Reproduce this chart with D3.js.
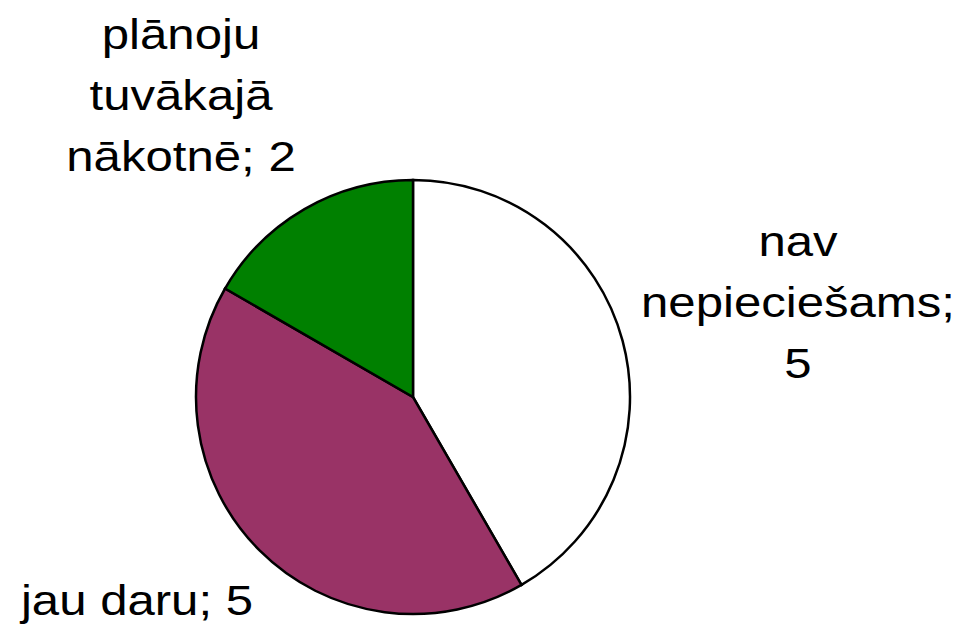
<!DOCTYPE html>
<html>
<head>
<meta charset="utf-8">
<script src="https://cdn.jsdelivr.net/npm/d3@7"></script>
<style>
  body { margin: 0; background: #fff; }
  text { font-family: "Liberation Sans", Arial, sans-serif; fill: #000; }
</style>
</head>
<body>
<svg id="chart"></svg>
<script>
// data
var categories = ["nav nepieciešams", "jau daru", "plānoju tuvākajā nākotnē"]
var values = [5, 5, 2]
var colors = ["#ffffff", "#993366", "#008000"]
var labelLines = [["nav", "nepieciešams;", "5"], ["jau daru; 5"], ["plānoju", "tuvākajā", "nākotnē; 2"]]

var width = 967,
    height = 626,
    radius = 217

var svg = d3.select("#chart")
    .attr("width", width)
    .attr("height", height)

var g = svg.append("g")
    .attr("transform", "translate(413,397)")

var pie = d3.pie()
    .value(function(d) { return d })
    .sort(null)

var arc = d3.arc()
    .innerRadius(0)
    .outerRadius(radius)

var data_ready = pie(values)

g.selectAll("path")
    .data(data_ready)
  .enter()
  .append("path")
    .attr("d", arc)
    .attr("fill", function(d, i) { return colors[i] })
    .attr("stroke", "#000")
    .style("stroke-width", "2.5px")

// label positions (centre x, first baseline y), placed by eye
var labelPos = [[798, 256], [137, 615], [181, 49]]
var lineH = 61

// the original text is a bit wider than Liberation Sans, so stretch it
svg.selectAll("text.lbl")
    .data(labelLines)
  .enter()
  .append("text")
    .attr("class", "lbl")
    .attr("text-anchor", "middle")
    .attr("transform", function(d, i) { return "translate(" + labelPos[i][0] + ",0) scale(1.17,1)" })
    .style("font-size", "42px")
    .each(function(lines, i) {
        var t = d3.select(this)
        lines.forEach(function(l, j) {
            t.append("tspan")
                .attr("x", 0)
                .attr("y", labelPos[i][1] + j * lineH)
                .text(l)
        })
    })
</script>
</body>
</html>
